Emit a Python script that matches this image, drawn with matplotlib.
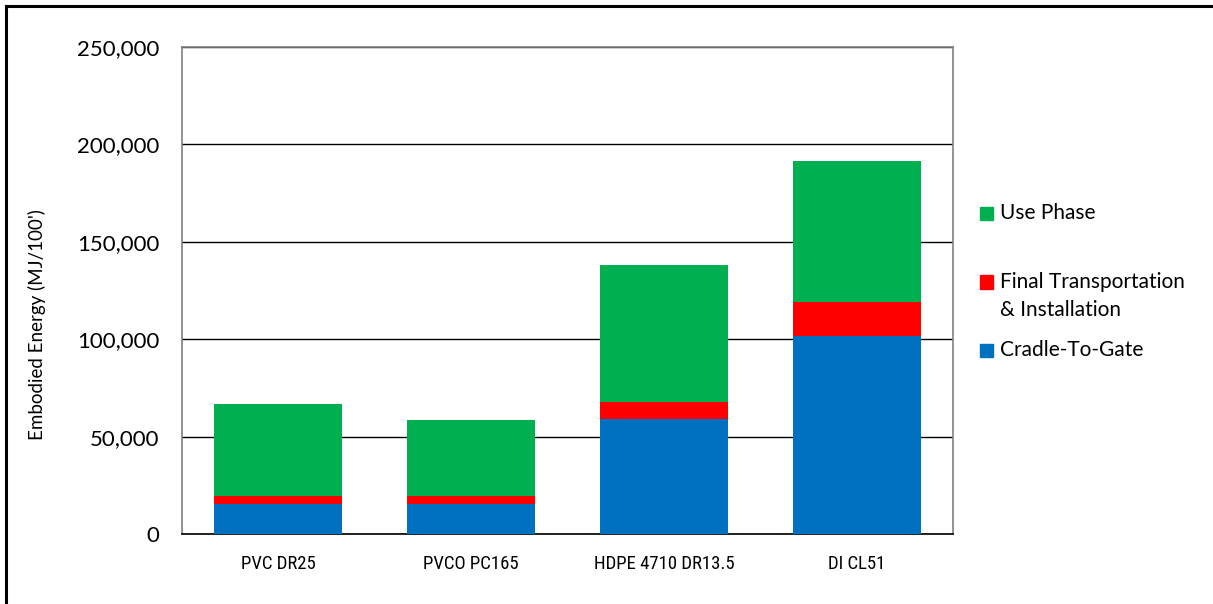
import matplotlib
matplotlib.use("Agg")
import matplotlib.pyplot as plt
from matplotlib.patches import Rectangle
from matplotlib.lines import Line2D
from matplotlib.ticker import FuncFormatter
from matplotlib import font_manager

categories = ["PVC DR25", "PVCO PC165", "HDPE 4710 DR13.5", "DI CL51"]
cradle_to_gate = [15600, 15600, 59000, 101800]
final_transport = [4100, 4100, 8900, 17100]
use_phase = [47200, 39000, 70200, 72700]
series_names = ["Cradle-To-Gate", "Final Transportation", "& Installation", "Use Phase"]
colors = ["#0070C0", "#FF0000", "#00B050"]
yticks = [0, 50000, 100000, 150000, 200000, 250000]

installed = {f.name for f in font_manager.fontManager.ttflist}
narrow = None
for cand in ["Liberation Sans Narrow", "Roboto Condensed", "Open Sans Condensed", "Arial Narrow"]:
    if cand in installed:
        narrow = cand
        break
if narrow:
    xfam, xsize = [narrow, "DejaVu Sans"], 13.5
else:
    xfam, xsize = ["Lato", "DejaVu Sans"], 11

W, H = 1213, 604
fig = plt.figure(figsize=(W / 100, H / 100), dpi=100)
ax = fig.add_axes([182 / W, 1 - 534 / H, (953 - 182) / W, (534 - 47) / H])

x = list(range(len(categories)))
bottom2 = [a + b for a, b in zip(cradle_to_gate, final_transport)]
ax.bar(x, cradle_to_gate, width=0.664, color=colors[0], zorder=3)
ax.bar(x, final_transport, bottom=cradle_to_gate, width=0.664, color=colors[1], zorder=3)
ax.bar(x, use_phase, bottom=bottom2, width=0.664, color=colors[2], zorder=3)

ax.set_xlim(-0.5, len(categories) - 0.5)
ax.set_ylim(0, 250000)
ax.set_yticks(yticks)
ax.yaxis.set_major_formatter(FuncFormatter(lambda v, p: f"{int(v):,}"))
ax.grid(axis="y", color="black", linewidth=1.0, zorder=0)
ax.tick_params(axis="both", length=0)
ax.tick_params(axis="y", pad=16.5, labelsize=16)
ax.tick_params(axis="x", pad=15)
for lab in ax.get_yticklabels():
    lab.set_family(["Lato", "DejaVu Sans"])
ax.set_xticks(x)
ax.set_xticklabels(categories, family=xfam, fontsize=xsize)
for s in ["left", "top", "right"]:
    ax.spines[s].set_color("#808080")
    ax.spines[s].set_linewidth(1.2)
ax.spines["bottom"].set_color("black")
ax.spines["bottom"].set_linewidth(1.2)

fig.text(37 / W, 1 - 325 / H, "Embodied Energy (MJ/100')", rotation=90,
         ha="center", va="center", fontsize=13.5, family=["Lato", "DejaVu Sans"])

# legend (manual, Excel-like)
fam = ["Lato", "DejaVu Sans"]
legend_marks = [(colors[2], 213), (colors[1], 282), (colors[0], 350)]
for col, yc in legend_marks:
    fig.patches.append(Rectangle((980 / W, 1 - (yc + 6.5) / H), 13 / W, 13 / H,
                                 transform=fig.transFigure, color=col))
legend_texts = [(series_names[3], 213), (series_names[1], 282), (series_names[2], 310), (series_names[0], 350)]
for lab, yc in legend_texts:
    fig.text(1000 / W, 1 - yc / H, lab, ha="left", va="center", fontsize=15, family=fam)

# outer frame
fig.add_artist(Line2D([5.5 / W, 5.5 / W], [0, 1 - 5.5 / H], transform=fig.transFigure, color="black", linewidth=2.2))
fig.add_artist(Line2D([5.5 / W, 1], [1 - 5.5 / H, 1 - 5.5 / H], transform=fig.transFigure, color="black", linewidth=2.2))

fig.savefig("out.png", dpi=100, facecolor="white")
